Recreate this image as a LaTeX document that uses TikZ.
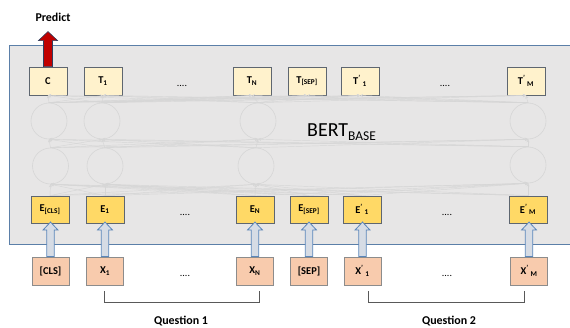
\documentclass[tikz,border=0pt]{standalone}
\usepackage{fontspec}
\setmainfont{Carlito}
\usetikzlibrary{arrows.meta,calc}
\definecolor{panelfill}{HTML}{E7E6E6}
\definecolor{panelline}{HTML}{5B7FA8}
\definecolor{tfill}{HTML}{FFF2CC}
\definecolor{efill}{HTML}{FFD966}
\definecolor{xfill}{HTML}{F8CBAD}
\definecolor{boxline}{HTML}{5E6670}
\definecolor{xline}{HTML}{8C8C8C}
\definecolor{hollowfill}{HTML}{D6DCE5}
\definecolor{hollowline}{HTML}{5B86BA}
\definecolor{predred}{HTML}{C00000}
\definecolor{predline}{HTML}{2F3F5F}
\definecolor{netline}{HTML}{D6D6D6}
\definecolor{brk}{HTML}{595959}
\begin{document}
\begin{tikzpicture}[x=1bp,y=-1bp,
 tok/.style={draw=boxline,line width=0.9bp,minimum width=38bp,minimum height=28bp,inner sep=0,font=\fontsize{10.5}{12}\selectfont\bfseries},
 tbox/.style={tok,fill=tfill},
 ebox/.style={tok,fill=efill,minimum height=27bp},
 xbox/.style={tok,fill=xfill,draw=xline,minimum width=37bp},
 neuron/.style={circle,draw=netline,line width=0.6bp,minimum size=36bp,inner sep=0},
 net/.style={draw=netline,line width=0.45bp,-{Stealth[length=3bp,width=3bp]}},
 dotlbl/.style={font=\fontsize{10}{12}\selectfont,anchor=base,inner sep=0},
 hollow/.style={draw=hollowline,fill=hollowfill,line width=0.8bp},
 redarrow/.style={draw=predline,fill=predred,line width=0.6bp},
 caption/.style={font=\fontsize{12}{14}\selectfont\bfseries,inner sep=0},
 bracket/.style={draw=brk,line width=0.8bp}
]
\useasboundingbox (0,0) rectangle (570,327);
% panel
\draw[fill=panelfill,draw=panelline,line width=0.8bp] (9,45) rectangle (580,244);

% T row
\node[tbox] (C) at (48,81) {C};
\node[tbox] (t1) at (103,81) {T\textsubscript{1}};
\node[tbox] (tn) at (252,81) {T\textsubscript{N}};
\node[tbox] (tsep) at (307,81) {T\textsubscript{[SEP]}};
\node[tbox] (tp1) at (360,81) {T\textsuperscript{'}\,\textsubscript{1}};
\node[tbox] (tpm) at (526,81) {T\textsuperscript{'}\,\textsubscript{M}};

% circles
\node[neuron] (u1) at (49,121) {};
\node[neuron] (u2) at (102,121) {};
\node[neuron] (u3) at (258,121) {};
\node[neuron] (u4) at (528,121) {};
\node[neuron] (l1) at (50.5,166) {};
\node[neuron] (l2) at (105,166) {};
\node[neuron] (l3) at (256,166) {};
\node[neuron] (l4) at (528,165) {};

% E row
\node[ebox] (ecls) at (50,209.5) {E\textsubscript{[CLS]}};
\node[ebox] (e1) at (105,209.5) {E\textsubscript{1}};
\node[ebox] (en) at (255,209.5) {E\textsubscript{N}};
\node[ebox] (esep) at (309,209.5) {E\textsubscript{[SEP]}};
\node[ebox] (ep1) at (362,209.5) {E\textsuperscript{'}\,\textsubscript{1}};
\node[ebox] (epm) at (528,209.5) {E\textsuperscript{'}\,\textsubscript{M}};

% network connections
\foreach \a in {ecls,e1,en,esep,ep1,epm}
  \foreach \b in {l1,l2,l3,l4}
    \draw[net] (\a.north) -- (\b.south);
\foreach \a in {l1,l2,l3,l4}
  \foreach \b in {u1,u2,u3,u4}
    \draw[net] (\a.north) -- (\b.south);
\foreach \a in {u1,u2,u3,u4}
  \foreach \b in {C,t1,tn,tsep,tp1,tpm}
    \draw[net] (\a.north) -- (\b.south);

% input row
\node[xbox] (xcls) at (50.5,271) {[CLS]};
\node[xbox] (x1) at (105,271) {X\textsubscript{1}};
\node[xbox] (xn) at (255,271) {X\textsubscript{N}};
\node[xbox] (xsep) at (309,271) {[SEP]};
\node[xbox] (xp1) at (362.5,271) {X\textsuperscript{'}\,\textsubscript{1}};
\node[xbox] (xpm) at (529,271) {X\textsuperscript{'}\,\textsubscript{M}};

% dots
\node[dotlbl] (d1) at (182,86) {....};
\node[dotlbl] (d2) at (445,86) {....};
\node[dotlbl] (d3) at (185,215) {....};
\node[dotlbl] (d4) at (447,215) {....};
\node[dotlbl] (d5) at (185,276) {....};
\node[dotlbl] (d6) at (447,276) {....};

% BERT label
\node[anchor=base west,inner sep=0,font=\fontsize{20}{24}\selectfont] (bert) at (307,136)
  {BERT{\fontsize{13.5}{14}\selectfont\raisebox{-4.5bp}{BASE}}};

% hollow arrows
\foreach \x in {xcls,x1,xn,xsep,xp1,xpm}
  \draw[hollow] (\x.north) ++(-3.75,0) -- ++(0,-26.5) -- ++(-3.75,0) -- ++(7.5,-8)
     -- ++(7.5,8) -- ++(-3.75,0) -- ++(0,26.5) -- cycle;

% predict arrow
\draw[redarrow] (C.north) ++(-4.5,0) -- ++(0,-26) -- ++(-5,0) -- ++(9.5,-9)
   -- ++(9.5,9) -- ++(-5,0) -- ++(0,26) -- cycle;
\node[caption] (predict) at (53,17) {Predict};

% brackets
\coordinate (q1a) at (104,291);
\coordinate (q1b) at (259,291);
\coordinate (q2a) at (368,291);
\coordinate (q2b) at (524,291);
\draw[bracket] (q1a) -- ++(0,11) -| (q1b);
\draw[bracket] (q2a) -- ++(0,11) -| (q2b);
\node[caption] (qu1) at (181,321) {Question 1};
\node[caption] (qu2) at (449,321) {Question 2};
\end{tikzpicture}
\end{document}
